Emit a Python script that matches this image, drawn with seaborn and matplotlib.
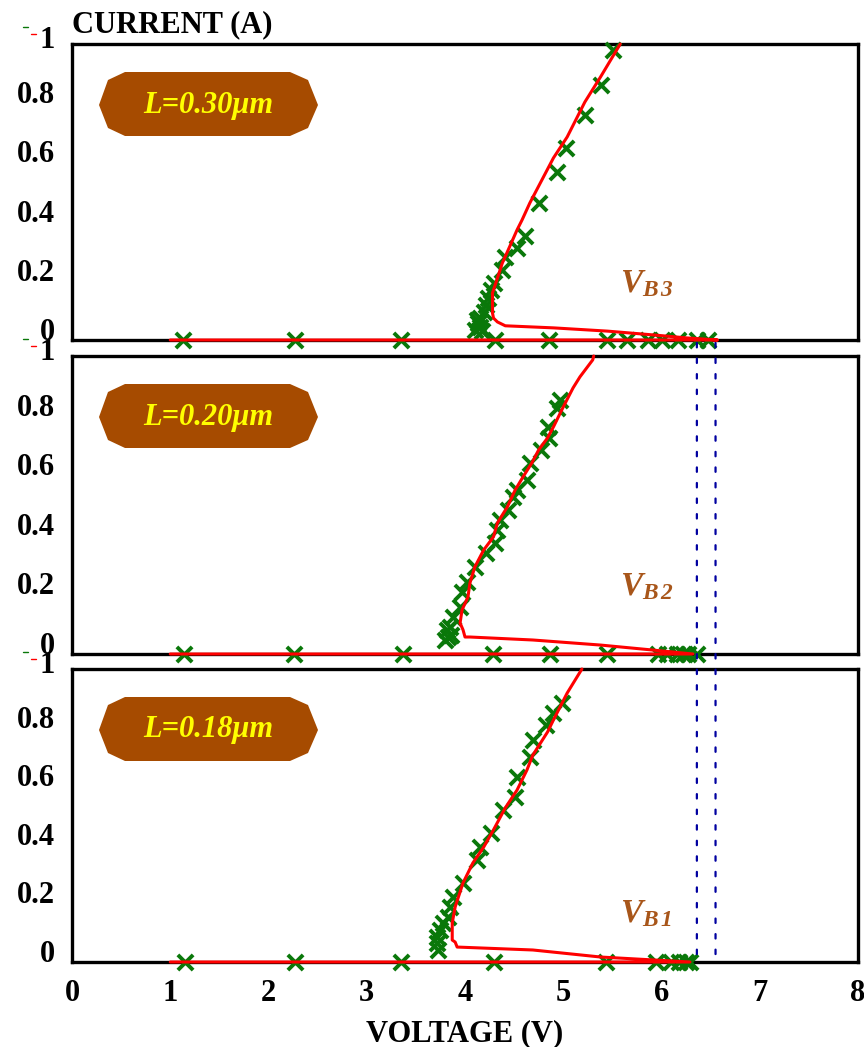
import numpy as np
import pandas as pd
import matplotlib
matplotlib.use("Agg")
import matplotlib.pyplot as plt
import seaborn as sns
from matplotlib.patches import Polygon, ConnectionPatch
from matplotlib.lines import Line2D
from matplotlib.transforms import ScaledTranslation

# ---------------- data ----------------
# Panel L=0.30um (top)
v30_line = [1.0, 6.57, 6.26, 5.92, 5.45, 4.90, 4.41, 4.33, 4.29, 4.28, 4.28, 4.33, 4.38, 4.43,
            4.53, 4.58, 4.66, 4.90, 5.04, 5.22, 5.38, 5.58]
i30_line = [0.0, 0.0, 0.007, 0.017, 0.030, 0.041, 0.048, 0.061, 0.074, 0.091, 0.159, 0.209, 0.26,
            0.297, 0.372, 0.405, 0.463, 0.615, 0.686, 0.804, 0.889, 1.0]
v30_pts = [1.13, 2.27, 3.35, 4.31, 4.85, 5.45, 5.65, 5.86, 6.01, 6.17, 6.36, 6.47,
           5.51, 5.38, 5.22, 5.03, 4.94, 4.75, 4.61, 4.53, 4.41, 4.38, 4.30, 4.26, 4.23,
           4.21, 4.19, 4.15, 4.13, 4.15, 4.12, 4.10, 4.17]
i30_pts = [0, 0, 0, 0, 0, 0, 0, 0, 0, 0, 0, 0,
           0.98, 0.861, 0.76, 0.649, 0.568, 0.463, 0.351, 0.311, 0.28, 0.236, 0.193, 0.169, 0.142,
           0.118, 0.095, 0.074, 0.057, 0.044, 0.068, 0.035, 0.03]

# Panel L=0.20um (middle)
v20_line = [1.0, 6.32, 5.92, 5.38, 4.69, 4.05, 4.00, 3.98, 3.95, 3.97, 4.03, 4.05, 4.10, 4.19,
            4.29, 4.33, 4.43, 4.51, 4.59, 4.68, 4.75, 4.84, 4.90, 5.00, 5.10, 5.17, 5.30, 5.31]
i20_line = [0.0, 0.0, 0.013, 0.030, 0.047, 0.057, 0.057, 0.081, 0.104, 0.148, 0.191, 0.238, 0.292,
            0.349, 0.393, 0.44, 0.493, 0.55, 0.594, 0.641, 0.685, 0.725, 0.762, 0.829, 0.893,
            0.93, 0.987, 1.0]
v20_pts = [1.14, 2.26, 3.37, 4.29, 4.87, 5.45, 5.96, 6.06, 6.16, 6.22, 6.27, 6.36,
           4.97, 4.94, 4.84, 4.85, 4.77, 4.66, 4.63, 4.53, 4.49, 4.44, 4.36, 4.33, 4.31,
           4.21, 4.10, 4.02, 3.97, 3.95, 3.88, 3.85, 3.82, 3.83, 3.80, 3.86]
i20_pts = [0, 0, 0, 0, 0, 0, 0, 0, 0, 0, 0, 0,
           0.852, 0.826, 0.762, 0.725, 0.685, 0.641, 0.584, 0.55, 0.527, 0.483, 0.45, 0.416,
           0.372, 0.339, 0.292, 0.242, 0.208, 0.158, 0.124, 0.091, 0.081, 0.057, 0.047, 0.065]

# Panel L=0.18um (bottom)
v18_line = [1.0, 6.29, 5.38, 4.69, 3.92, 3.90, 3.87, 3.87, 3.90, 3.98, 4.08, 4.19, 4.29, 4.41,
            4.53, 4.63, 4.69, 4.84, 4.90, 5.04, 5.19]
i18_line = [0.0, 0.0, 0.017, 0.041, 0.051, 0.068, 0.075, 0.133, 0.188, 0.27, 0.338, 0.392, 0.451,
            0.526, 0.587, 0.655, 0.706, 0.785, 0.826, 0.918, 1.0]
v18_pts = [1.15, 2.27, 3.35, 4.30, 5.44, 5.94, 6.10, 6.18, 6.25, 6.29,
           4.99, 4.90, 4.82, 4.69, 4.66, 4.53, 4.51, 4.39, 4.26, 4.15, 4.12, 3.98, 3.88,
           3.85, 3.83, 3.78, 3.75, 3.72, 3.72, 3.73]
i18_pts = [0, 0, 0, 0, 0, 0, 0, 0, 0, 0,
           0.884, 0.85, 0.809, 0.758, 0.70, 0.631, 0.563, 0.519, 0.44, 0.392, 0.348, 0.27,
           0.222, 0.188, 0.154, 0.133, 0.109, 0.085, 0.065, 0.041]

panel_labels = ["L=0.30\u03bcm", "L=0.20\u03bcm", "L=0.18\u03bcm"]
vb_labels = [r"$V_{B\,3}$", r"$V_{B\,2}$", r"$V_{B\,1}$"]
vb_lines = [6.36, 6.55]
x_ticks = [0, 1, 2, 3, 4, 5, 6, 7, 8]
y_ticks = [0, 0.2, 0.4, 0.6, 0.8, 1]
y_ticklabels = ["0", "0.2", "0.4", "0.6", "0.8", "1"]

# ---------------- style ----------------
sns.set_theme(style="white")
plt.rcParams["font.family"] = ["Liberation Serif", "DejaVu Serif"]
plt.rcParams["font.weight"] = "bold"
plt.rcParams["text.color"] = "black"
plt.rcParams["axes.labelcolor"] = "black"
plt.rcParams["xtick.color"] = "black"
plt.rcParams["ytick.color"] = "black"
plt.rcParams["mathtext.fontset"] = "custom"
plt.rcParams["mathtext.it"] = "Liberation Serif:italic:bold"
plt.rcParams["mathtext.rm"] = "Liberation Serif:italic:bold"
plt.rcParams["mathtext.bf"] = "Liberation Serif:italic:bold"

RED = "#FF0000"
GREEN = "#0A780A"
BOX = "#A64B00"
VBC = "#A8561A"
BLUE = "#0000A0"

W, H = 864, 1047
fig = plt.figure(figsize=(W / 100, H / 100), dpi=100)

boxes = [(44, 340), (356, 654), (669, 962)]
data = [
    (v30_line, i30_line, v30_pts, i30_pts),
    (v20_line, i20_line, v20_pts, i20_pts),
    (v18_line, i18_line, v18_pts, i18_pts),
]
vb_y = [0.162, 0.198, 0.137]

axes = []
for k, ((top, bot), (vl, il, vp, ip)) in enumerate(zip(boxes, data)):
    ax = fig.add_axes([72 / W, (H - bot) / H, 786 / W, (bot - top) / H])
    axes.append(ax)
    pts = pd.DataFrame({"V": vp, "I": ip})
    line = pd.DataFrame({"V": vl, "I": il})
    sns.scatterplot(data=pts, x="V", y="I", ax=ax, marker="x", s=120, color=GREEN,
                    linewidth=2.8, clip_on=False, zorder=4)
    sns.lineplot(data=line, x="V", y="I", ax=ax, sort=False, estimator=None, color=RED,
                 linewidth=2.2, clip_on=False, zorder=5)
    ax.set_xlim(0, 8)
    ax.set_ylim(0, 1)
    ax.set_xlabel("")
    ax.set_ylabel("")
    for s in ax.spines.values():
        s.set_linewidth(2.4)
        s.set_color("black")
        s.set_visible(True)
    ax.set_yticks(y_ticks)
    ax.set_yticklabels(y_ticklabels)
    ax.tick_params(axis="y", length=0, pad=12, labelsize=22)
    for lab, val in zip(ax.get_yticklabels(), y_ticks):
        lab.set_fontweight("bold")
        dy = 7 if val == 1 else 11
        lab.set_transform(lab.get_transform() + ScaledTranslation(0, dy / 100, fig.dpi_scale_trans))
    ax.set_xticks(x_ticks)
    if k < 2:
        ax.tick_params(axis="x", length=0, labelbottom=False)
    else:
        ax.tick_params(axis="x", length=0, pad=12, labelsize=22)
        for lab in ax.get_xticklabels():
            lab.set_fontweight("bold")
        ax.set_xlabel("VOLTAGE (V)", fontsize=22, fontweight="bold", labelpad=8)
    ax.grid(False)
    ax.set_facecolor("white")

    # label box
    h = bot - top
    poly_px = [(99, 61), (108, 36), (125, 28), (290, 28), (308, 36), (318, 61),
               (308, 84), (290, 92), (125, 92), (108, 84)]
    poly = [((px - 72) / 786, 1 - py / h) for px, py in poly_px]
    ax.add_patch(Polygon(poly, closed=True, transform=ax.transAxes, facecolor=BOX,
                         edgecolor="none", zorder=6))
    ax.text((208 - 72) / 786, 1 - 61 / h, panel_labels[k], transform=ax.transAxes,
            ha="center", va="center", color="#FFFF00", fontsize=22,
            fontweight="bold", fontstyle="italic", zorder=7)
    ax.text(0.697, vb_y[k], vb_labels[k], transform=ax.transAxes, ha="left",
            va="baseline", color=VBC, fontsize=24, zorder=7)

    # tiny legend remnants near top label
    yk = top - 17
    fig.add_artist(Line2D([23 / W, 28 / W], [(H - yk) / H] * 2, color=GREEN, lw=1.0))
    fig.add_artist(Line2D([31 / W, 36 / W], [(H - yk - 7) / H] * 2, color=RED, lw=1.0))

# dotted breakdown-voltage markers spanning middle and bottom panels
for xv in vb_lines:
    cp = ConnectionPatch(xyA=(xv, -0.01), coordsA=axes[0].transData,
                         xyB=(xv, 0.024), coordsB=axes[2].transData,
                         color=BLUE, lw=1.6, linestyle=(0, (2, 5)), zorder=10)
    fig.add_artist(cp)

fig.text(72 / W, 1 - 25 / H, "CURRENT (A)", ha="left", va="center", fontsize=22,
         fontweight="bold")

fig.savefig("out.png", dpi=100)
